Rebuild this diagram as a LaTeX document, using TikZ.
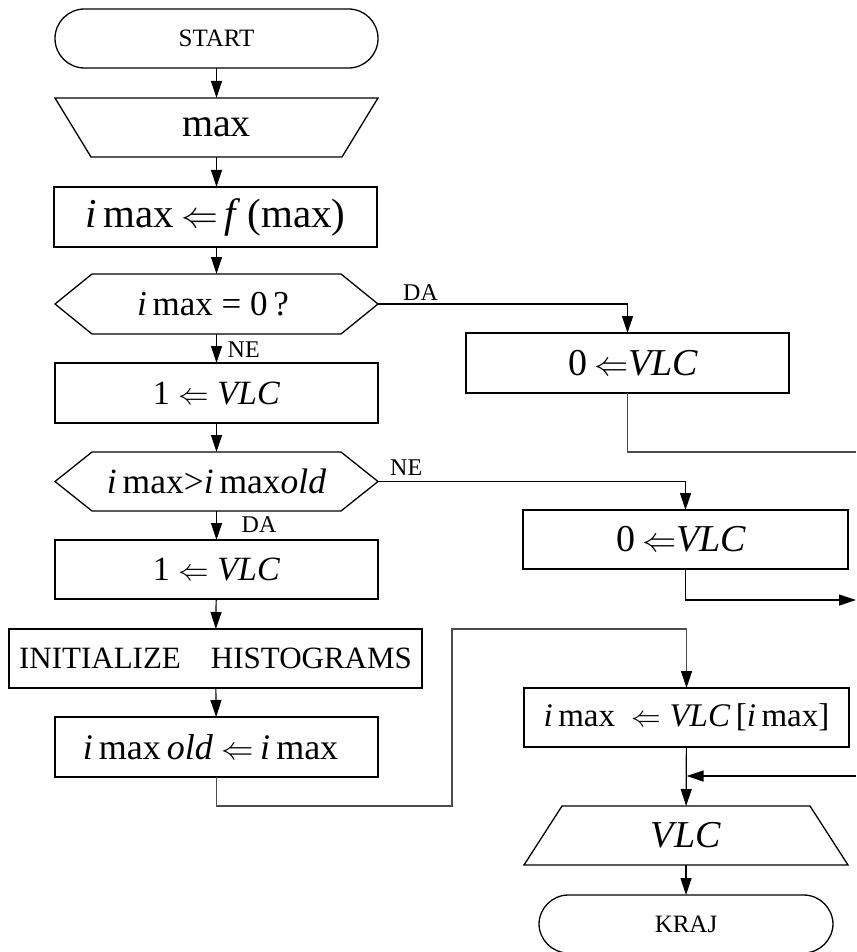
\documentclass[tikz,border=0pt]{standalone}
\usepackage{fontspec}
\usepackage{graphicx}
\setmainfont{Liberation Serif}
\usetikzlibrary{arrows.meta}
\newcommand\fsz[1]{\fontsize{#1}{#1}\selectfont}
\newcommand\Larr{\resizebox{0.9em}{!}{$\Leftarrow$}}
\begin{document}
\begin{tikzpicture}[x=1pt,y=-1pt,
  box/.style={draw, line width=1.3pt, minimum width=323pt, minimum height=59pt, inner sep=0pt, outer sep=0pt},
  plain/.style={minimum width=323pt, minimum height=59pt, inner sep=0pt, outer sep=0pt},
  term/.style={box, rounded corners=29.5pt},
  shapeline/.style={line width=1.3pt},
  arr/.style={line width=1.2pt, -{Triangle[length=17pt,width=11pt,color=black]}},
  conn/.style={line width=1.2pt, draw=black!70},
  lbl/.style={font=\fsz{24}, inner sep=0pt}
]
\useasboundingbox (0,0) rectangle (856,952);

% left column
\node[term, font=\fsz{25}] (start) at (216.5,38.5) {START};
\node[plain, font=\fsz{40}] (in1) at (216.5,127.5) {max};
\draw[shapeline] (in1.north west) -- (in1.north east) -- ([xshift=-36pt]in1.south east) -- ([xshift=36pt]in1.south west) -- cycle;
\node[box, minimum height=60pt, font=\fsz{41}] (p1) at (215.5,217) {\textit{i}\,max\,\Larr\,\textit{f}\,(max)};
\node[plain, minimum height=60pt, font=\fsz{35}] (d1) at (213,304) {\textit{i}\,max = 0\,?};
\draw[shapeline] ([xshift=3.5pt]d1.west) -- ([xshift=40.5pt]d1.north west) -- ([xshift=-33.5pt]d1.north east) -- ([xshift=3.5pt]d1.east) -- ([xshift=-33.5pt]d1.south east) -- ([xshift=40.5pt]d1.south west) -- cycle;
\node[box, minimum height=60pt, font=\fsz{34}] (p2) at (216.5,393) {1 \Larr\ \textit{VLC}};
\node[plain, font=\fsz{35.5}] (d2) at (216.5,481.5) {\textit{i}\,max>\textit{i}\,max\textit{old}};
\draw[shapeline] (d2.west) -- ([xshift=37pt]d2.north west) -- ([xshift=-37pt]d2.north east) -- (d2.east) -- ([xshift=-37pt]d2.south east) -- ([xshift=37pt]d2.south west) -- cycle;
\node[box, font=\fsz{34}] (p3) at (216.5,569.5) {1 \Larr\ \textit{VLC}};
\node[box, minimum width=413pt, font=\fsz{31}] (init) at (215.5,658.5) {INITIALIZE\hspace{30pt}HISTOGRAMS};
\node[box, minimum height=60pt, font=\fsz{36}] (p4) at (216.5,747) {\hspace{-12pt}\textit{i}\,max\,\textit{old} \Larr\,\textit{i}\,max};

% right column
\node[box, minimum height=60pt, font=\fsz{38}] (A) at (627.5,363) {\hspace{12pt}0\,\Larr\textit{VLC}};
\node[box, minimum width=325pt, font=\fsz{38}] (B) at (685.5,539.5) {\hspace{-8pt}0\,\Larr\textit{VLC}};
\node[box, minimum width=325pt, font=\fsz{33}] (C) at (686.5,717.5) {\textit{i}\,max\ \ \Larr\ \textit{VLC}\,[\textit{i}\,max]};
\node[plain, minimum width=324pt, font=\fsz{38}] (vlc) at (686,835.5) {\textit{VLC}};
\draw[shapeline] ([xshift=38pt]vlc.north west) -- ([xshift=-38pt]vlc.north east) -- (vlc.south east) -- (vlc.south west) -- cycle;
\node[term, minimum width=294pt, minimum height=58pt, font=\fsz{25}] (krj) at (686,924) {KRAJ};

% helper coordinates
\coordinate (eA) at (856,452);
\coordinate (eB) at (856,600);
\coordinate (eC) at (856,776);
\coordinate (l1) at (452,806);
\coordinate (l2) at (452,629);

% connectors
\draw[arr] (start) -- (in1);
\draw[arr] (in1) -- (in1 |- p1.north);
\draw[arr] (in1 |- p1.south) -- (in1 |- d1.north);
\draw[arr] (in1 |- d1.south) -- (p2);
\draw[arr] (p2) -- (d2);
\draw[arr] (d2) -- (p3);
\draw[arr] (p3) -- (init);
\draw[arr] (init) -- (p4);
\draw[arr] ([xshift=3.5pt]d1.east) -| (A.north);
\draw[conn] (A.south) |- (eA);
\draw[arr] (d2.east) -| (B.north);
\draw[arr] (B.south) |- (eB);
\draw[arr, draw=black!70] (p4.south) |- (l1) -- (l2) -| (C.north);
\draw[arr] (C) -- (vlc);
\draw[arr] (eC) -- (C.south |- eC);
\draw[arr] (vlc) -- (krj);

% labels
\node[lbl, anchor=south west] (lDA1) at ([xshift=25pt,yshift=3pt]p2.east |- d1.east) {DA};
\node[lbl, anchor=west] (lNE1) at ([xshift=11pt,yshift=-16pt]p2.south |- d1.south) {NE};
\node[lbl, anchor=south west] (lNE2) at ([xshift=12pt,yshift=6pt]d2.east) {NE};
\node[lbl, anchor=west] (lDA2) at ([xshift=25pt,yshift=-14pt]d2.south) {DA};
\end{tikzpicture}
\end{document}
